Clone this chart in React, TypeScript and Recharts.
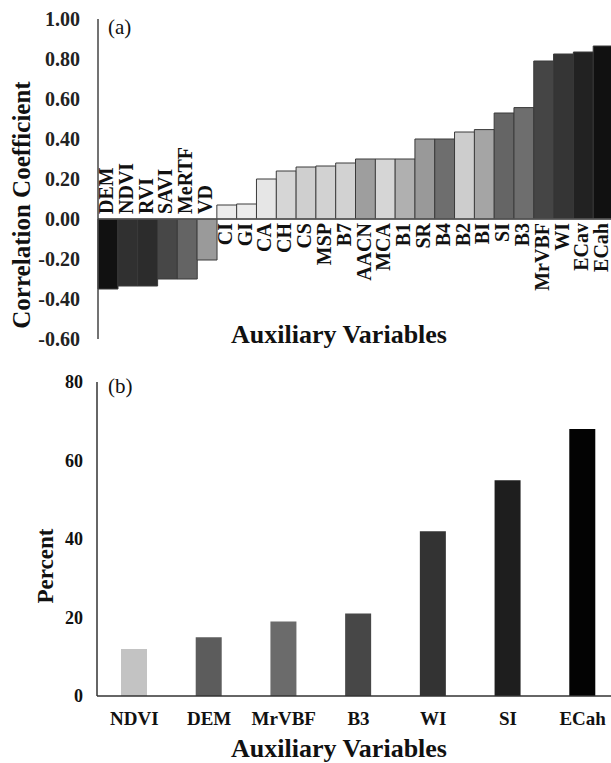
import React from 'react'
import { BarChart, Bar, XAxis, YAxis, Cell, LabelList, ReferenceLine } from 'recharts'

const FONT = '"Liberation Serif", "Times New Roman", serif'

// (a) correlation of each auxiliary variable
const topCategories = ['DEM', 'NDVI', 'RVI', 'SAVI', 'MeRTF', 'VD', 'CI', 'GI', 'CA', 'CH', 'CS', 'MSP', 'B7', 'AACN', 'MCA', 'B1', 'SR', 'B4', 'B2', 'BI', 'SI', 'B3', 'MrVBF', 'WI', 'ECav', 'ECah']
const topValues = [-0.35, -0.335, -0.335, -0.3, -0.3, -0.205, 0.07, 0.075, 0.2, 0.24, 0.26, 0.265, 0.28, 0.3, 0.3, 0.3, 0.4, 0.4, 0.435, 0.447, 0.53, 0.557, 0.79, 0.825, 0.835, 0.865]
const topColors = ['#111111', '#303030', '#2c2c2c', '#474747', '#646464', '#9a9a9a', '#ececec', '#ececec', '#e6e6e6', '#d6d6d6', '#cfcfcf', '#d2d2d2', '#d2d2d2', '#9e9e9e', '#d6d6d6', '#b0b0b0', '#999999', '#6e6e6e', '#cdcdcd', '#a5a5a5', '#656565', '#6e6e6e', '#454545', '#353535', '#222222', '#111111']
const topTicks = [-0.6, -0.4, -0.2, 0, 0.2, 0.4, 0.6, 0.8, 1.0]

// (b) percent
const bottomCategories = ['NDVI', 'DEM', 'MrVBF', 'B3', 'WI', 'SI', 'ECah']
const bottomValues = [12, 15, 19, 21, 42, 55, 68]
const bottomColors = ['#c3c3c3', '#5c5c5c', '#6b6b6b', '#474747', '#333333', '#1e1e1e', '#030303']
const bottomTicks = [0, 20, 40, 60, 80]

const topData = topCategories.map((name, i) => ({ name, value: topValues[i] }))
const bottomData = bottomCategories.map((name, i) => ({ name, value: bottomValues[i] }))

// name written along the zero line, like excel "low" labels
const BarNameLabel = (props: any) => {
  const vb = props.viewBox ?? props
  const { x, y, width, height } = vb
  const name = props.value
  const v = topValues[topCategories.indexOf(name)]
  const top = Math.min(y, y + height)
  const bottom = Math.max(y, y + height)
  const cx = x + width / 2 - 2
  const ly = v < 0 ? top - 5 : bottom + 4
  return (
    <text
      x={cx}
      y={ly}
      transform={`rotate(-90 ${cx} ${ly})`}
      textAnchor={v < 0 ? 'start' : 'end'}
      dominantBaseline="central"
      fontFamily={FONT}
      fontWeight="bold"
      fontSize={20}
      fill="#111"
    >
      {name}
    </text>
  )
}

export default function App() {
  return (
    <div style={{ position: 'absolute', left: 0, top: 0, width: 611, height: 763, overflow: 'hidden', background: '#fff' }}>
      <div style={{ position: 'absolute', left: 0, top: 0 }}>
        <BarChart width={613} height={360} data={topData} margin={{ top: 19, right: 0, left: 0, bottom: 21 }} barCategoryGap={0}>
          <XAxis dataKey="name" hide />
          <YAxis
            domain={[-0.6, 1]}
            ticks={topTicks}
            tickFormatter={(v: number) => v.toFixed(2)}
            width={98}
            tickLine={false}
            tickSize={6}
            tickMargin={12}
            axisLine={{ stroke: '#444', strokeWidth: 1.5 }}
            tick={{ fontSize: 20, fontWeight: 'bold', fill: '#222', fontFamily: FONT }}
          />
          <Bar dataKey="value" stroke="#3a3a3a" strokeWidth={1} isAnimationActive={false}>
            {topData.map((d, i) => (
              <Cell key={d.name} fill={topColors[i]} />
            ))}
            <LabelList dataKey="name" content={BarNameLabel} />
          </Bar>
          <ReferenceLine y={0} stroke="#555" strokeWidth={1.5} />
        </BarChart>
      </div>

      <div style={{ position: 'absolute', left: 0, top: 360 }}>
        <BarChart width={620} height={403} data={bottomData} margin={{ top: 22, right: 0, left: 0, bottom: 0 }}>
          <XAxis
            dataKey="name"
            height={67}
            tickLine={false}
            tickSize={6}
            tickMargin={10}
            axisLine={{ stroke: '#333', strokeWidth: 1.5 }}
            tick={{ fontSize: 19, fontWeight: 'bold', fill: '#111', fontFamily: FONT }}
            interval={0}
          />
          <YAxis
            domain={[0, 80]}
            ticks={bottomTicks}
            width={97}
            tickLine={false}
            tickSize={6}
            tickMargin={8}
            axisLine={{ stroke: '#333', strokeWidth: 1.5 }}
            tick={{ fontSize: 18, fontWeight: 'bold', fill: '#111', fontFamily: FONT }}
          />
          <Bar dataKey="value" barSize={26} isAnimationActive={false}>
            {bottomData.map((d, i) => (
              <Cell key={d.name} fill={bottomColors[i]} />
            ))}
          </Bar>
        </BarChart>
      </div>

      {/* titles and panel letters */}
      <svg width={611} height={763} style={{ position: 'absolute', left: 0, top: 0, pointerEvents: 'none' }}>
        <g fontFamily={FONT} fill="#111">
          <text x={108} y={34} fontSize={21}>(a)</text>
          <text x={108} y={393} fontSize={21}>(b)</text>
          <text x={339} y={343} fontSize={26} fontWeight="bold" textAnchor="middle">Auxiliary Variables</text>
          <text x={339} y={757} fontSize={26} fontWeight="bold" textAnchor="middle">Auxiliary Variables</text>
          <text x={21} y={205} fontSize={25} fontWeight="bold" textAnchor="middle" dominantBaseline="central" transform="rotate(-90 21 205)">Correlation Coefficient</text>
          <text x={45} y={566} fontSize={23} fontWeight="bold" textAnchor="middle" dominantBaseline="central" transform="rotate(-90 45 566)">Percent</text>
        </g>
      </svg>
    </div>
  )
}
